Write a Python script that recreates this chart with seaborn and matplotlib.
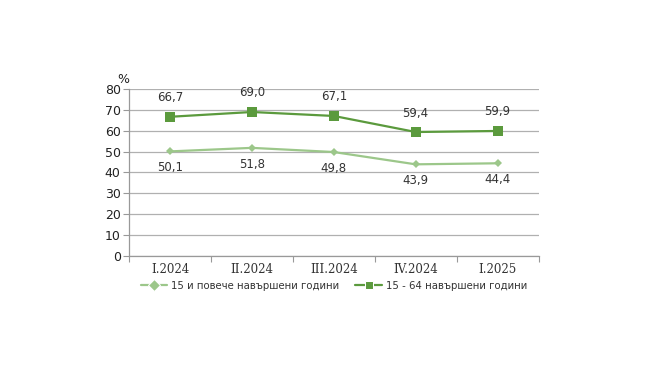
import numpy as np
import pandas as pd
import matplotlib
matplotlib.use('Agg')
import matplotlib.pyplot as plt
import seaborn as sns

quarters = ['I.2024', 'II.2024', 'III.2024', 'IV.2024', 'I.2025']
age_15_plus = [50.1, 51.8, 49.8, 43.9, 44.4]
age_15_64 = [66.7, 69.0, 67.1, 59.4, 59.9]
series_names = ['15 и повече навършени години', '15 - 64 навършени години']

light_green = '#9cc78a'
dark_green = '#5b9a3d'

df = pd.DataFrame({
    'quarter': quarters * 2,
    'x': list(range(len(quarters))) * 2,
    'value': age_15_plus + age_15_64,
    'series': [series_names[0]] * 5 + [series_names[1]] * 5,
})

sns.set_style('white')
plt.rcParams['font.family'] = ['DejaVu Sans']

fig = plt.figure(figsize=(6.5, 3.65), dpi=100)
ax = fig.add_axes([0.1985, 0.299, 0.63, 0.457])

sns.lineplot(data=df, x='x', y='value', hue='series', style='series',
             palette=[light_green, dark_green], markers=['D', 's'],
             dashes=False, linewidth=1.6, ax=ax, legend=True)
for line, ms in zip(ax.lines, [4, 6.5]):
    line.set_markersize(ms)
    line.set_markeredgewidth(0)

# data labels: light below, dark above
for i, v in enumerate(age_15_plus):
    ax.annotate(f'{v:.1f}'.replace('.', ','), (i, v), xytext=(0, -7),
                textcoords='offset points', ha='center', va='top',
                fontsize=8.5, color='#333333')
for i, v in enumerate(age_15_64):
    ax.annotate(f'{v:.1f}'.replace('.', ','), (i, v), xytext=(0, 9),
                textcoords='offset points', ha='center', va='bottom',
                fontsize=8.5, color='#333333')

ax.set_xlim(-0.5, len(quarters) - 0.5)
ax.set_ylim(0, 80)
ax.set_yticks(range(0, 81, 10))
ax.grid(axis='y', color='#b0b0b0', linewidth=0.9)
ax.set_axisbelow(True)
ax.set_xticks(range(len(quarters)))
ax.set_xticklabels(quarters, fontfamily='DejaVu Serif', fontsize=8.5, color='#333333')
ax.set_xticks(np.arange(-0.5, len(quarters), 1), minor=True)
ax.tick_params(axis='x', which='major', bottom=True, length=0, pad=5)
ax.tick_params(axis='x', which='minor', bottom=True, length=4, color='#999999', width=0.8)
ax.tick_params(axis='y', left=True, length=4, color='#999999', width=0.8, labelsize=9,
               labelcolor='#222222', pad=2)
ax.set_xlabel('')
ax.set_ylabel('')
for side in ['top', 'right']:
    ax.spines[side].set_visible(False)
for side in ['left', 'bottom']:
    ax.spines[side].set_color('#999999')
    ax.spines[side].set_linewidth(0.9)

ax.text(-0.015, 1.02, '%', transform=ax.transAxes, fontsize=9,
        ha='center', va='bottom', color='#222222')

handles, labels = ax.get_legend_handles_labels()
ax.legend(handles, labels, loc='upper center', bbox_to_anchor=(0.5, -0.095),
          ncol=2, frameon=False, fontsize=7.3, handlelength=2.6,
          columnspacing=1.6, handletextpad=0.4, labelcolor='#333333')

fig.savefig('out.png', dpi=100)
